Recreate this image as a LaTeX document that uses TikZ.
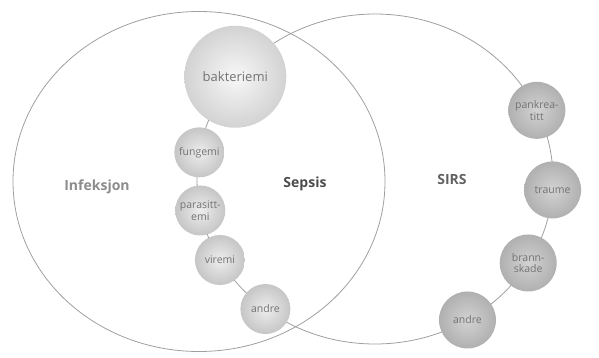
\documentclass[tikz,border=0pt]{standalone}
\usepackage{fontspec}
\setmainfont{Open Sans}
\begin{document}
\begin{tikzpicture}[x=1pt,y=1pt,
    ring/.style={draw=gray!75, line width=0.8pt},
    ball/.style={circle, inner sep=0pt, align=center, text=black!55,
      font=\fontsize{10.5}{11.5}\selectfont},
    leftball/.style={ball, minimum size=50pt, inner color=gray!14, outer color=gray!45},
    rightball/.style={ball, minimum size=57pt, inner color=gray!35, outer color=gray!62},
    setlabel/.style={font=\fontsize{14}{16}\selectfont\bfseries}]
\useasboundingbox (0,0) rectangle (599,357);

\coordinate (inf) at (199,175.5);
\coordinate (sirs) at (375,178);
\draw[ring] (inf) ellipse (186 and 170);
\draw[ring] (sirs) ellipse (178 and 165);

\node[ball, minimum size=102pt, inner color=gray!6, outer color=gray!35,
  font=\fontsize{13}{14}\selectfont] (bakt) at ([shift={(141.7:178 and 165)}]sirs) {bakteriemi};
\node[leftball] (fung) at ([shift={(170.7:178 and 165)}]sirs) {fungemi};
\node[leftball] (para) at ([shift={(191:178 and 165)}]sirs) {parasitt-\\emi};
\node[leftball] (vir) at ([shift={(209.4:178 and 165)}]sirs) {viremi};
\node[leftball] (andreL) at ([shift={(232:178 and 165)}]sirs) {andre};

\node[rightball] (pank) at ([shift={(24.6:178 and 165)}]sirs) {pankrea-\\titt};
\node[rightball] (traume) at ([shift={(-3.8:178 and 165)}]sirs) {traume};
\node[rightball] (brann) at ([shift={(-30.6:178 and 165)}]sirs) {brann-\\skade};
\node[rightball] (andreR) at ([shift={(-58.7:178 and 165)}]sirs) {andre};

\node[setlabel, text=black!45] (infeksjon) at (97,170) {Infeksjon};
\node[setlabel, text=black!70] (sepsis) at (305,173) {Sepsis};
\node[setlabel, text=black!62] (sirslabel) at (452,178) {SIRS};
\end{tikzpicture}
\end{document}
